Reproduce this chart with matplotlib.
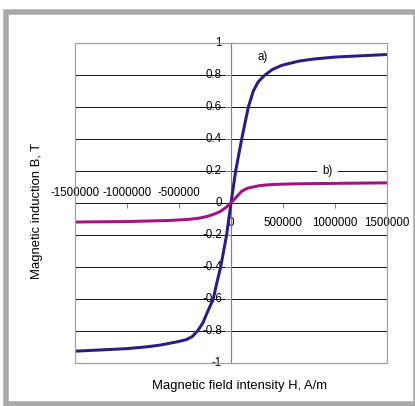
import numpy as np
import matplotlib.pyplot as plt
from matplotlib.patches import Rectangle

# =============================================================
# DATA
# =============================================================
H_a = [-1500000, -1250000, -1000000, -800000, -683000, -522000, -426000, -370000,
       -320000, -270000, -233000, -170000, -138000, -99000, -42000, 0, 45000,
       103000, 135000, 167000, 215000, 260000, 295000, 327000, 400000, 487000,
       560000, 663000, 800000, 1000000, 1250000, 1500000]
B_a = [-0.928, -0.92, -0.912, -0.9, -0.89, -0.87, -0.855, -0.835,
       -0.80, -0.75, -0.693, -0.60, -0.505, -0.40, -0.20, 0.0, 0.20,
       0.40, 0.50, 0.60, 0.70, 0.755, 0.78, 0.80, 0.835, 0.86,
       0.872, 0.888, 0.90, 0.912, 0.92, 0.928]

H_b = [-1500000, -1000000, -586000, -400000, -298000, -220000, -160000, -106000,
       -50000, 0, 50000, 103000, 160000, 231000, 279000, 359000, 450000,
       615000, 1000000, 1500000]
B_b = [-0.12, -0.117, -0.11, -0.103, -0.095, -0.083, -0.07, -0.055,
       -0.03, 0.0, 0.035, 0.073, 0.092, 0.102, 0.108, 0.113, 0.116,
       0.119, 0.122, 0.125]

y_ticks = [-1, -0.8, -0.6, -0.4, -0.2, 0, 0.2, 0.4, 0.6, 0.8, 1]
y_tick_labels = ["-1", "-0.8", "-0.6", "-0.4", "-0.2", "0", "0.2", "0.4", "0.6", "0.8", "1"]
x_ticks = [-1500000, -1000000, -500000, 0, 500000, 1000000, 1500000]
x_tick_labels = ["-1500000", "-1000000", "-500000", "0", "500000", "1000000", "1500000"]

# =============================================================
# FIGURE (dpi 72 so that 1 pt == 1 px)
# =============================================================
W, Hpx = 415, 406
plt.rcParams['font.family'] = ['Liberation Sans', 'DejaVu Sans']
fig = plt.figure(figsize=(W / 72, Hpx / 72), dpi=72)

# outer gray border
fig.patches.append(Rectangle((6 / W, 2.5 / Hpx), (416 - 6) / W, (394.5 - 2.5) / Hpx,
                             transform=fig.transFigure, fill=False,
                             edgecolor="#a9a9a9", lw=5.5, clip_on=False))

# plot area
left, right, top, bottom = 75, 387, 43, 362.7
ax = fig.add_axes([left / W, 1 - bottom / Hpx, (right - left) / W, (bottom - top) / Hpx])
ax.set_xlim(-1500000, 1500000)
ax.set_ylim(-1, 1)

# gridlines (inner only, frame is gray)
for v in y_ticks[1:-1]:
    if v != 0:
        ax.axhline(v, color="black", lw=0.9, zorder=1)

# centred axes
ax.spines["top"].set_visible(False)
ax.spines["right"].set_visible(False)
ax.spines["left"].set_position(("data", 0))
ax.spines["bottom"].set_position(("data", 0))
ax.spines["left"].set_color("#808080")
ax.spines["bottom"].set_color("black")
ax.spines["left"].set_linewidth(1.2)
ax.spines["bottom"].set_linewidth(0.9)
ax.set_yticks(y_ticks)
ax.set_xticks(x_ticks)
ax.tick_params(axis="y", direction="out", length=6, color="#808080",
               labelleft=False, width=1)
ax.tick_params(axis="x", direction="out", length=5, color="#808080",
               labelbottom=False, width=1)

# gray frame around plot area
ax.add_patch(Rectangle((0, 0), 1, 1, transform=ax.transAxes, fill=False,
                       edgecolor="#a0a0a0", lw=1.2, zorder=5, clip_on=False))

# tick labels
for v, s in zip(y_ticks, y_tick_labels):
    ax.annotate(s, (0, v), xytext=(-9, 0), textcoords="offset points",
                ha="right", va="center", fontsize=11.5, color="black", zorder=2)
for v, s in zip(x_ticks, x_tick_labels):
    if v < 0:
        ax.annotate(s, (v, 0), xytext=(0, 9.5), textcoords="offset points",
                    ha="center", va="center", fontsize=11.5, zorder=2)
    else:
        ax.annotate(s, (v, 0), xytext=(0, -20), textcoords="offset points",
                    ha="center", va="center", fontsize=11.5, zorder=2)

# curves
ax.plot(H_a, B_a, color="#2e1a82", lw=3, solid_joinstyle="round",
        solid_capstyle="butt", zorder=4)
ax.plot(H_b, B_b, color="#a3137f", lw=3, solid_joinstyle="round",
        solid_capstyle="butt", zorder=4)

# curve labels
ax.text(308000, 0.91, "a)", fontsize=11.5, ha="center", va="center", zorder=6)
ax.text(928000, 0.2, "b)", fontsize=11.5, ha="center", va="center", zorder=6,
        bbox=dict(facecolor="white", edgecolor="none", pad=5))

# axis titles
fig.text(240 / W, 1 - 386 / Hpx, "Magnetic field intensity H, A/m",
         ha="center", va="center", fontsize=13)
fig.text(37 / W, 1 - 211 / Hpx, "Magnetic induction B, T", rotation=90,
         ha="center", va="center", fontsize=13)

fig.savefig("out.png", dpi=72)
